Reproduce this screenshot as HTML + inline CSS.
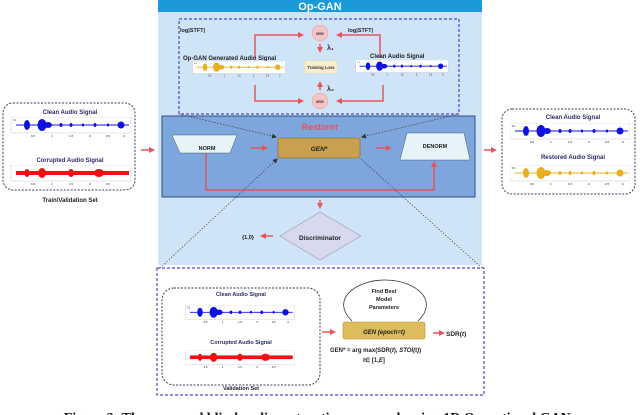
<!DOCTYPE html>
<html><head><meta charset="utf-8"><style>
html,body{margin:0;padding:0;background:#fff;width:640px;height:415px;overflow:hidden}
svg{display:block}
text{font-family:"Liberation Sans",sans-serif;font-weight:bold}
</style></head><body>
<svg width="640" height="415" viewBox="0 0 640 415" xmlns="http://www.w3.org/2000/svg">
<defs>
<marker id="ah" markerWidth="6" markerHeight="6" refX="4" refY="3" orient="auto" markerUnits="userSpaceOnUse"><path d="M0,0 L6,3 L0,6 z" fill="#e8545a"/></marker>
<marker id="ak" markerWidth="5" markerHeight="5" refX="4" refY="2.5" orient="auto" markerUnits="userSpaceOnUse"><path d="M0,0 L5,2.5 L0,5 z" fill="#333"/></marker>
<symbol id="wb" viewBox="0 0 120 22">
<rect x="0" y="0" width="120" height="16" fill="#fff" stroke="#ccc" stroke-width="0.5"/>
<line x1="5" y1="8" x2="118" y2="8" stroke="currentColor" stroke-width="1"/>
<ellipse cx="16" cy="8" rx="3" ry="5" fill="currentColor"/>
<ellipse cx="31" cy="8" rx="4.5" ry="6" fill="currentColor"/><ellipse cx="37" cy="8" rx="4" ry="3" fill="currentColor"/>
<ellipse cx="50" cy="8" rx="1.5" ry="2" fill="currentColor"/><ellipse cx="60" cy="8" rx="1.5" ry="2" fill="currentColor"/>
<ellipse cx="72" cy="8" rx="1.2" ry="1.5" fill="currentColor"/><ellipse cx="84" cy="8" rx="1.5" ry="2" fill="currentColor"/>
<ellipse cx="97" cy="8" rx="1.2" ry="1.5" fill="currentColor"/><ellipse cx="110" cy="8" rx="3.5" ry="3.5" fill="currentColor"/>
<text x="2" y="4" font-size="2.5" fill="#555" font-weight="normal">0.1</text>
<text x="20" y="20" font-size="3" fill="#555" font-weight="normal">0.5</text>
<text x="40" y="20" font-size="3" fill="#555" font-weight="normal">1</text>
<text x="58" y="20" font-size="3" fill="#555" font-weight="normal">1.5</text>
<text x="78" y="20" font-size="3" fill="#555" font-weight="normal">2</text>
<text x="95" y="20" font-size="3" fill="#555" font-weight="normal">2.5</text>
<text x="112" y="20" font-size="3" fill="#555" font-weight="normal">3</text>
</symbol>
<symbol id="wr" viewBox="0 0 120 22">
<rect x="0" y="0" width="120" height="16" fill="#fff" stroke="#ccc" stroke-width="0.5"/>
<rect x="5" y="6" width="113" height="4" fill="#f01010"/>
<ellipse cx="31" cy="8" rx="4" ry="5" fill="#f01010"/><ellipse cx="60" cy="8" rx="3" ry="4" fill="#f01010"/>
<ellipse cx="88" cy="8" rx="5" ry="4" fill="#f01010"/><ellipse cx="16" cy="8" rx="2.5" ry="4" fill="#f01010"/>
<text x="20" y="20" font-size="3" fill="#555" font-weight="normal">0.5</text>
<text x="40" y="20" font-size="3" fill="#555" font-weight="normal">1</text>
<text x="58" y="20" font-size="3" fill="#555" font-weight="normal">1.5</text>
<text x="78" y="20" font-size="3" fill="#555" font-weight="normal">2</text>
<text x="95" y="20" font-size="3" fill="#555" font-weight="normal">2.5</text>
</symbol>
</defs>

<rect x="158" y="0" width="324" height="265" fill="#cfe4f7"/>
<rect x="158" y="0" width="324" height="12" fill="#1a9ad8"/>
<text x="320" y="10" font-size="11" fill="#fff" text-anchor="middle">Op-GAN</text>

<rect x="179" y="19" width="280" height="95" fill="none" stroke="#4a4ad0" stroke-width="1.2" stroke-dasharray="3,2"/>
<text x="180" y="32" font-size="5.5" fill="#222">log|STFT|</text>
<text x="348" y="32" font-size="5.5" fill="#222">log|STFT|</text>
<circle cx="320" cy="33" r="8" fill="#f4c4c4" stroke="#e6a0a0" stroke-width="0.5"/>
<text x="320" y="35" font-size="3.5" fill="#333" text-anchor="middle">MSE</text>
<circle cx="320" cy="101" r="8" fill="#f4c4c4" stroke="#e6a0a0" stroke-width="0.5"/>
<text x="320" y="103" font-size="3.5" fill="#333" text-anchor="middle">MSE</text>
<polyline points="255,58 255,35 302,35" fill="none" stroke="#e8545a" stroke-width="1.5" marker-end="url(#ah)"/>
<polyline points="380,58 380,35 338,35" fill="none" stroke="#e8545a" stroke-width="1.5" marker-end="url(#ah)"/>
<polyline points="255,85 255,101 302,101" fill="none" stroke="#e8545a" stroke-width="1.5" marker-end="url(#ah)"/>
<polyline points="383,85 383,101 338,101" fill="none" stroke="#e8545a" stroke-width="1.5" marker-end="url(#ah)"/>
<line x1="320" y1="44" x2="320" y2="51" stroke="#e8545a" stroke-width="1.5" marker-end="url(#ah)"/>
<line x1="320" y1="90" x2="320" y2="83" stroke="#e8545a" stroke-width="1.5" marker-end="url(#ah)"/>
<text x="327" y="50" font-size="7" fill="#333" font-weight="normal">λ₁</text>
<text x="327" y="91" font-size="7" fill="#333" font-weight="normal">λ₂</text>
<rect x="305" y="61" width="32" height="12" fill="#fbeecf" stroke="#eedca8" stroke-width="0.5"/>
<text x="321" y="69" font-size="4.2" fill="#333" text-anchor="middle">Training Loss</text>
<text x="183" y="60" font-size="6" fill="#222">Op-GAN Generated Audio Signal</text>
<use href="#wb" x="187" y="61" width="104" height="17" style="color:#e8b020"/>
<text x="370" y="58" font-size="6" fill="#222">Clean Audio Signal</text>
<use href="#wb" x="350" y="60" width="104" height="17" style="color:#1010e0"/>

<rect x="162" y="116" width="313" height="81" fill="#7da6dc" stroke="#34507a" stroke-width="1"/>
<text x="320" y="130" font-size="9" fill="#e8545a" text-anchor="middle">Restorer</text>
<polygon points="172,135 237,135 230,153 180,153" fill="#e6f4f8" stroke="#345" stroke-width="0.4"/>
<text x="207" y="150" font-size="5.5" fill="#222" text-anchor="middle">NORM</text>
<rect x="278" y="138" width="82" height="20" rx="2" fill="#c8a050" stroke="#8a6a20" stroke-width="0.6"/>
<text x="319" y="151" font-size="6.5" fill="#222" text-anchor="middle" font-style="italic">GEN*</text>
<polygon points="407,133 464,133 470,160 400,160" fill="#e6f4f8" stroke="#345" stroke-width="0.4"/>
<text x="435" y="148" font-size="5.5" fill="#222" text-anchor="middle">DENORM</text>
<line x1="250" y1="148" x2="266" y2="148" stroke="#e8545a" stroke-width="1.5" marker-end="url(#ah)"/>
<line x1="376" y1="148" x2="390" y2="148" stroke="#e8545a" stroke-width="1.5" marker-end="url(#ah)"/>
<polyline points="206,153 206,190 434,190 434,163" fill="none" stroke="#e8545a" stroke-width="1.5" marker-end="url(#ah)"/>
<line x1="320" y1="200" x2="320" y2="207" stroke="#e8545a" stroke-width="1.5" marker-end="url(#ah)"/>
<polygon points="320,212 361,236 320,260 280,236" fill="#d8d8ee" stroke="#888" stroke-width="0.5"/>
<text x="320" y="240" font-size="6.5" fill="#222" text-anchor="middle">Discriminator</text>
<line x1="273" y1="236" x2="262" y2="236" stroke="#e8545a" stroke-width="1.5" marker-end="url(#ah)"/>
<text x="242" y="239" font-size="5.5" fill="#222">{1,0}</text>

<g stroke="#333" stroke-width="0.6" stroke-dasharray="1.5,1.5" fill="none">
<line x1="179" y1="114" x2="276" y2="137" marker-end="url(#ak)"/>
<line x1="459" y1="114" x2="362" y2="137" marker-end="url(#ak)"/>
<line x1="160" y1="268" x2="277" y2="159" marker-end="url(#ak)"/>
<line x1="482" y1="268" x2="361" y2="159"/>
</g>

<rect x="3" y="103" width="132" height="87" rx="10" fill="#fff" stroke="#3a3a5a" stroke-width="1" stroke-dasharray="2,1.5"/>
<text x="70" y="114" font-size="6" fill="#2a2a6a" text-anchor="middle">Clean Audio Signal</text>
<use href="#wb" x="10" y="117" width="122" height="22" style="color:#1010e0"/>
<text x="70" y="162" font-size="6" fill="#2a2a6a" text-anchor="middle">Corrupted Audio Signal</text>
<use href="#wr" x="10" y="165" width="122" height="22"/>
<text x="70" y="202" font-size="6" fill="#222" text-anchor="middle">Train/Validation Set</text>
<line x1="141" y1="150" x2="153" y2="150" stroke="#e8545a" stroke-width="1.5" marker-end="url(#ah)"/>
<line x1="484" y1="150" x2="495" y2="150" stroke="#e8545a" stroke-width="1.5" marker-end="url(#ah)"/>

<rect x="502" y="109" width="133" height="85" rx="10" fill="#fff" stroke="#3a3a5a" stroke-width="1" stroke-dasharray="2,1.5"/>
<text x="573" y="119" font-size="6" fill="#2a2a6a" text-anchor="middle">Clean Audio Signal</text>
<use href="#wb" x="510" y="123" width="120" height="22" style="color:#1010e0"/>
<text x="573" y="159" font-size="6" fill="#2a2a6a" text-anchor="middle">Restored Audio Signal</text>
<use href="#wb" x="510" y="165" width="120" height="22" style="color:#e8b020"/>

<rect x="157" y="268" width="327" height="127" fill="#fff" stroke="#4a4ad0" stroke-width="1.2" stroke-dasharray="3,2"/>
<rect x="162" y="288" width="158" height="97" rx="12" fill="#fff" stroke="#3a3a5a" stroke-width="1" stroke-dasharray="2,1.5"/>
<text x="241" y="296" font-size="5.5" fill="#2a2a6a" text-anchor="middle">Clean Audio Signal</text>
<use href="#wb" x="176" y="305" width="128" height="20" style="color:#1010e0"/>
<text x="241" y="344" font-size="5.5" fill="#2a2a6a" text-anchor="middle">Corrupted Audio Signal</text>
<use href="#wr" x="176" y="350" width="128" height="20"/>
<text x="241" y="390" font-size="5.5" fill="#222" text-anchor="middle">Validation Set</text>
<line x1="322" y1="332" x2="334" y2="332" stroke="#e8545a" stroke-width="1.5" marker-end="url(#ah)"/>
<path d="M352,321 C330,300 355,280 385,280 C415,280 440,300 418,321" fill="#fff" stroke="#333" stroke-width="0.8"/>
<text x="384" y="293" font-size="5.5" fill="#222" text-anchor="middle">Find Best</text>
<text x="384" y="301" font-size="5.5" fill="#222" text-anchor="middle">Model</text>
<text x="384" y="309" font-size="5.5" fill="#222" text-anchor="middle">Parameters</text>
<rect x="343" y="322" width="82" height="17" rx="2" fill="#dcbc5c" stroke="#b89030" stroke-width="0.6"/>
<text x="384" y="334" font-size="6" fill="#222" text-anchor="middle" font-style="italic">GEN (epoch=t)</text>
<line x1="433" y1="333" x2="443" y2="333" stroke="#e8545a" stroke-width="1.5" marker-end="url(#ah)"/>
<text x="446" y="336" font-size="6.5" fill="#222">SDR(<tspan font-style="italic">t</tspan>)</text>
<text x="330" y="352" font-size="6" fill="#222">GEN* = arg max(SDR(<tspan font-style="italic">t</tspan>), <tspan font-style="italic">STOI(t)</tspan>)</text>
<text x="363" y="362" font-size="6" fill="#222"><tspan font-style="italic">t</tspan>∈ [1,<tspan font-style="italic">E</tspan>]</text>

<text x="320" y="422" font-size="14" fill="#111" text-anchor="middle" style="font-family:'Liberation Serif',serif">Figure 2: The proposed blind audio restoration approach using 1D Operational GANs</text>
</svg>
</body></html>
